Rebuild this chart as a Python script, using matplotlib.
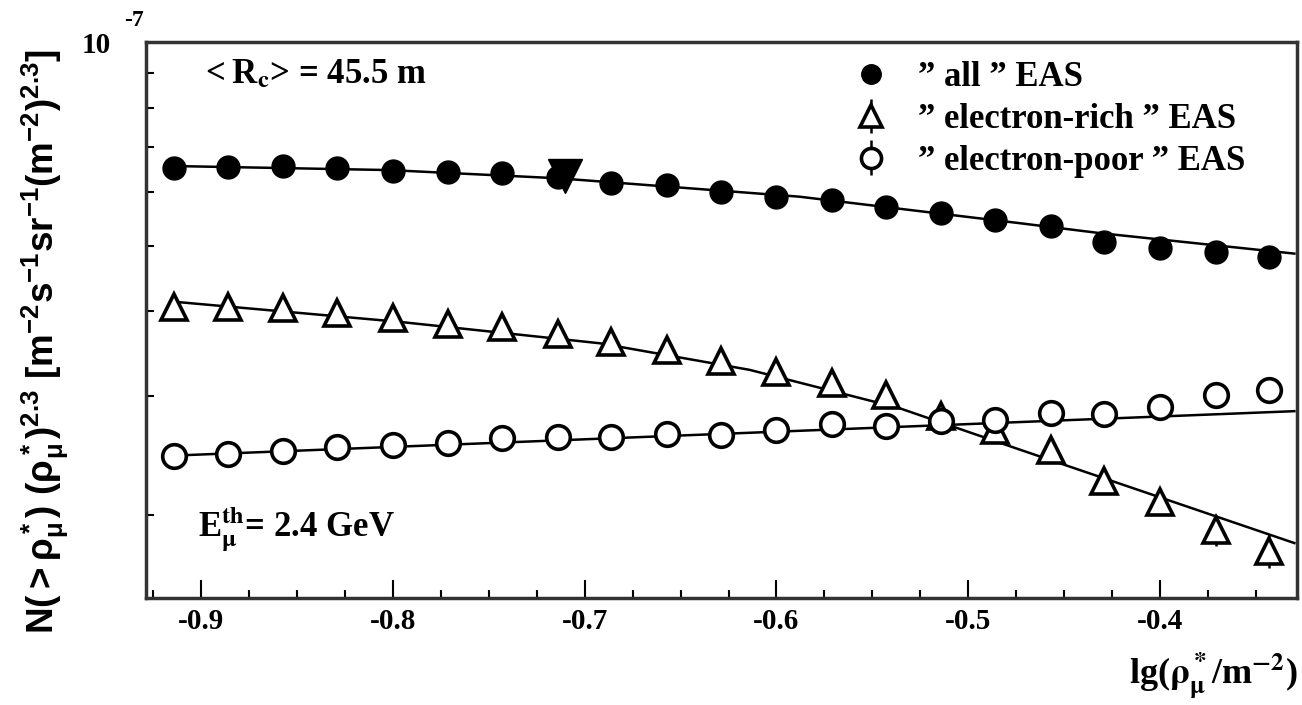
import numpy as np
import matplotlib.pyplot as plt
from matplotlib.ticker import NullFormatter

plt.rcParams['mathtext.fontset'] = 'stix'
plt.rcParams['mathtext.rm'] = 'Liberation Sans:bold'
plt.rcParams['mathtext.it'] = 'Liberation Sans:bold'
plt.rcParams['mathtext.bf'] = 'Liberation Sans:bold'

# --- data (y values in units of 1e-8) ---
lg_rho = [-0.914, -0.886, -0.857, -0.829, -0.800, -0.771, -0.743, -0.714, -0.686, -0.657, -0.629,
          -0.600, -0.571, -0.543, -0.514, -0.486, -0.457, -0.429, -0.400, -0.371, -0.343]
all_eas = [6.51, 6.54, 6.57, 6.51, 6.45, 6.42, 6.40, 6.32, 6.20, 6.15, 6.01,
           5.91, 5.84, 5.71, 5.59, 5.46, 5.35, 5.07, 4.96, 4.90, 4.82]
e_rich = [4.06, 4.06, 4.05, 3.98, 3.91, 3.83, 3.79, 3.70, 3.60, 3.51, 3.38,
          3.26, 3.14, 3.01, 2.80, 2.67, 2.50, 2.25, 2.09, 1.90, 1.77]
e_rich_err = [0.03, 0.03, 0.03, 0.04, 0.04, 0.04, 0.05, 0.05, 0.05, 0.06, 0.06,
              0.07, 0.06, 0.07, 0.08, 0.07, 0.08, 0.08, 0.09, 0.10, 0.10]
e_poor = [2.45, 2.46, 2.49, 2.52, 2.54, 2.56, 2.60, 2.61, 2.61, 2.64, 2.63,
          2.67, 2.73, 2.71, 2.76, 2.77, 2.83, 2.82, 2.89, 3.01, 3.06]
e_poor_err = [0.01, 0.01, 0.02, 0.02, 0.03, 0.03, 0.03, 0.035, 0.035, 0.035, 0.045,
              0.045, 0.045, 0.055, 0.055, 0.065, 0.065, 0.065, 0.08, 0.09, 0.10]

# fit curves
fit_all_x = [-0.915, -0.802, -0.713, -0.588, -0.473, -0.431, -0.330]
fit_all_y = [6.56, 6.47, 6.29, 5.91, 5.40, 5.22, 4.87]
fit_rich_x = [-0.912, -0.796, -0.692, -0.614, -0.536, -0.473, -0.330]
fit_rich_y = [4.13, 3.86, 3.59, 3.28, 2.88, 2.50, 1.82]
fit_poor_x = [-0.915, -0.330]
fit_poor_y = [2.45, 2.85]

# single odd marker
odd_x = [-0.710]
odd_y = [6.33]

sc = 1e-8
def s(v):
    return np.array(v) * sc

serif = dict(family=['Liberation Serif', 'DejaVu Serif'], weight='bold')

fig = plt.figure(figsize=(13.02, 7.05), dpi=100)
ax = fig.add_axes([0.1121, 0.1518, 0.8841, 0.7886])

ax.plot(fit_all_x, s(fit_all_y), color='black', lw=1.8, zorder=2)
ax.plot(fit_rich_x, s(fit_rich_y), color='black', lw=1.8, zorder=2)
ax.plot(fit_poor_x, s(fit_poor_y), color='black', lw=1.8, zorder=2)

h_all, = ax.plot(lg_rho, s(all_eas), 'o', color='black', ms=16.5, ls='none', zorder=4)
h_rich = ax.errorbar(lg_rho, s(e_rich), yerr=s(e_rich_err), fmt='^', color='black', mfc='white',
                     mec='black', mew=2.6, ms=19, elinewidth=1.8, capsize=0, zorder=4)
h_poor = ax.errorbar(lg_rho, s(e_poor), yerr=s(e_poor_err), fmt='o', color='black', mfc='white',
                     mec='black', mew=2.6, ms=17, elinewidth=1.8, capsize=0, zorder=4)
ax.plot(odd_x, s(odd_y), 'v', color='black', ms=24, zorder=5)

ax.set_yscale('log')
ax.set_ylim(1.51e-8, 1e-7)
ax.set_xlim(-0.9287, -0.3286)

ax.set_yticks([1e-7])
ax.set_yticklabels(['10'], **serif, fontsize=21)
ax.set_yticks([2e-8, 3e-8, 4e-8, 5e-8, 6e-8, 7e-8, 8e-8, 9e-8], minor=True)
ax.yaxis.set_minor_formatter(NullFormatter())

xt = [-0.9, -0.8, -0.7, -0.6, -0.5, -0.4]
ax.set_xticks(xt)
ax.set_xticklabels([f'{v:.1f}' for v in xt], **serif, fontsize=21)
ax.set_xticks(np.arange(-0.925, -0.33, 0.025), minor=True)

ax.tick_params(axis='x', which='major', direction='in', length=13, width=1.5, pad=7, top=False)
ax.tick_params(axis='x', which='minor', direction='in', length=6, width=1.5, top=False)
ax.tick_params(axis='y', which='major', direction='in', length=0, pad=25, right=False)
ax.tick_params(axis='y', which='minor', direction='in', length=6, width=1.5, right=False)
for sp in ax.spines.values():
    sp.set_linewidth(2.5)
    sp.set_color('#333333')

fig.text(134 / 1302, 1 - 20 / 705, '-7', ha='center', va='center', fontsize=17, **serif)

ax.legend([h_all, h_rich, h_poor],
          ['\u201d all \u201d EAS', '\u201d electron-rich \u201d EAS', '\u201d electron-poor \u201d EAS'],
          loc='upper left', bbox_to_anchor=(0.616, 0.965), frameon=False,
          prop=dict(family='Liberation Serif', weight='bold', size=25),
          handlelength=0.9, handletextpad=0.9, labelspacing=0.25, borderpad=0, borderaxespad=0,
          markerscale=0.85)

fig.text(205 / 1302, 1 - 75 / 705, '<\u2009R$_\\mathbf{c}$> = 45.5 m', fontsize=25, va='center', **serif)
fig.text(198 / 1302, 1 - 530 / 705, 'E$^{\\mathbf{th}}_{\\mathbf{\\mu}}$= 2.4 GeV',
         fontsize=25, va='center', **serif)

ax.set_xlabel('lg($\\mathbf{\\rho^*_\\mu}$/m$^{\\mathbf{-2}}$)', fontsize=26, **serif, ha='right')
ax.xaxis.set_label_coords(1.0, -0.095)

fig.text(0.034, 0.515,
         r'$\mathbf{N(>\rho^*_\mu)\ (\rho^*_\mu)^{2.3}\ [m^{-2}s^{-1}sr^{-1}(m^{-2})^{2.3}]}$',
         rotation=90, ha='center', va='center', fontsize=26.5, math_fontfamily='custom')

fig.savefig('out.png', dpi=100)
